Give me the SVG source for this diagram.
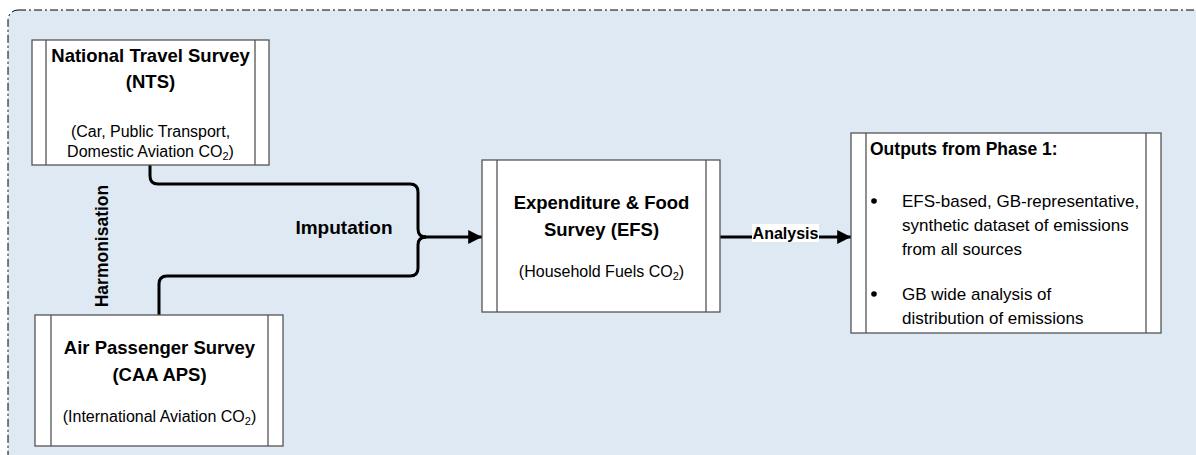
<svg xmlns="http://www.w3.org/2000/svg" width="1196" height="455" viewBox="0 0 1196 455">
<defs>
<style>
.frame{fill:#dfe9f3;stroke:#000;stroke-width:1;stroke-dasharray:8,3,2,3}
.box{fill:#fff;stroke:#555;stroke-width:1.3}
.bar{fill:none;stroke:#555;stroke-width:1.3}
.conn{fill:none;stroke:#000;stroke-width:3;stroke-linejoin:round}
.t{font-family:"Liberation Sans",Arial,sans-serif;fill:#000}
.b{font-weight:bold;font-size:18.5px}
.r{font-size:16px}
.o{font-size:17px}
</style>
<marker id="arr" viewBox="0 0 10 10" refX="10" refY="5" markerWidth="4.8" markerHeight="4.6" orient="auto" markerUnits="strokeWidth">
<path d="M0,0 L10,5 L0,10 Z" fill="#000"/>
</marker>
</defs>
<rect x="0" y="0" width="1196" height="455" fill="#fff"/>
<rect class="frame" x="8" y="10" width="1200" height="460" rx="10" ry="10"/>

<g id="connectors">
<path class="conn" d="M150,165 V176 Q150,184 158,184 H410 Q418,184 418,192 V229 Q418,237 426,237"/>
<path class="conn" d="M159,315 V284 Q159,276 167,276 H410 Q418,276 418,268 V245 Q418,237 426,237"/>
<path class="conn" d="M424,237 H482" marker-end="url(#arr)"/>
<path class="conn" d="M720,237 H851" marker-end="url(#arr)"/>
<rect x="752" y="224" width="67" height="18" fill="#fff"/>
<text class="t" x="785.5" y="239" text-anchor="middle" font-size="16" font-weight="bold">Analysis</text>
<text class="t" x="344" y="234" text-anchor="middle" font-size="19" font-weight="bold">Imputation</text>
<text class="t" transform="translate(108,246) rotate(-90)" text-anchor="middle" font-size="17.5" font-weight="bold">Harmonisation</text>
</g>

<g id="nts">
<rect class="box" x="32" y="40" width="237" height="125"/>
<path class="bar" d="M46,40 V165 M255,40 V165"/>
<text class="t b" x="150.5" y="62" text-anchor="middle">National Travel Survey</text>
<text class="t b" x="150.5" y="88" text-anchor="middle">(NTS)</text>
<text class="t r" x="150.5" y="137" text-anchor="middle">(Car, Public Transport,</text>
<text class="t r" x="150.5" y="157" text-anchor="middle">Domestic Aviation CO<tspan font-size="11" dy="3">2</tspan><tspan dy="-3">)</tspan></text>
</g>

<g id="aps">
<rect class="box" x="35" y="315" width="248" height="131"/>
<path class="bar" d="M51,315 V446 M268,315 V446"/>
<text class="t b" x="159.5" y="354" text-anchor="middle">Air Passenger Survey</text>
<text class="t b" x="159.5" y="381" text-anchor="middle">(CAA APS)</text>
<text class="t r" x="159.5" y="422" text-anchor="middle">(International Aviation CO<tspan font-size="11" dy="3">2</tspan><tspan dy="-3">)</tspan></text>
</g>

<g id="efs">
<rect class="box" x="482" y="160" width="238" height="152"/>
<path class="bar" d="M497,160 V312 M706,160 V312"/>
<text class="t b" x="601.5" y="209" text-anchor="middle">Expenditure &amp; Food</text>
<text class="t b" x="601.5" y="236" text-anchor="middle">Survey (EFS)</text>
<text class="t r" x="601.5" y="277" text-anchor="middle">(Household Fuels CO<tspan font-size="11" dy="3">2</tspan><tspan dy="-3">)</tspan></text>
</g>

<g id="outputs">
<rect class="box" x="851" y="133" width="310" height="200"/>
<path class="bar" d="M866,133 V333 M1146,133 V333"/>
<text class="t" x="870" y="155" font-size="17.5" font-weight="bold">Outputs from Phase 1:</text>
<circle cx="874" cy="201" r="2.8" fill="#000"/>
<circle cx="874" cy="294" r="2.8" fill="#000"/>
<text class="t o" x="902" y="207">EFS-based, GB-representative,</text>
<text class="t o" x="902" y="231">synthetic dataset of emissions</text>
<text class="t o" x="902" y="255">from all sources</text>
<text class="t o" x="902" y="300">GB wide analysis of</text>
<text class="t o" x="902" y="324">distribution of emissions</text>
</g>
</svg>
